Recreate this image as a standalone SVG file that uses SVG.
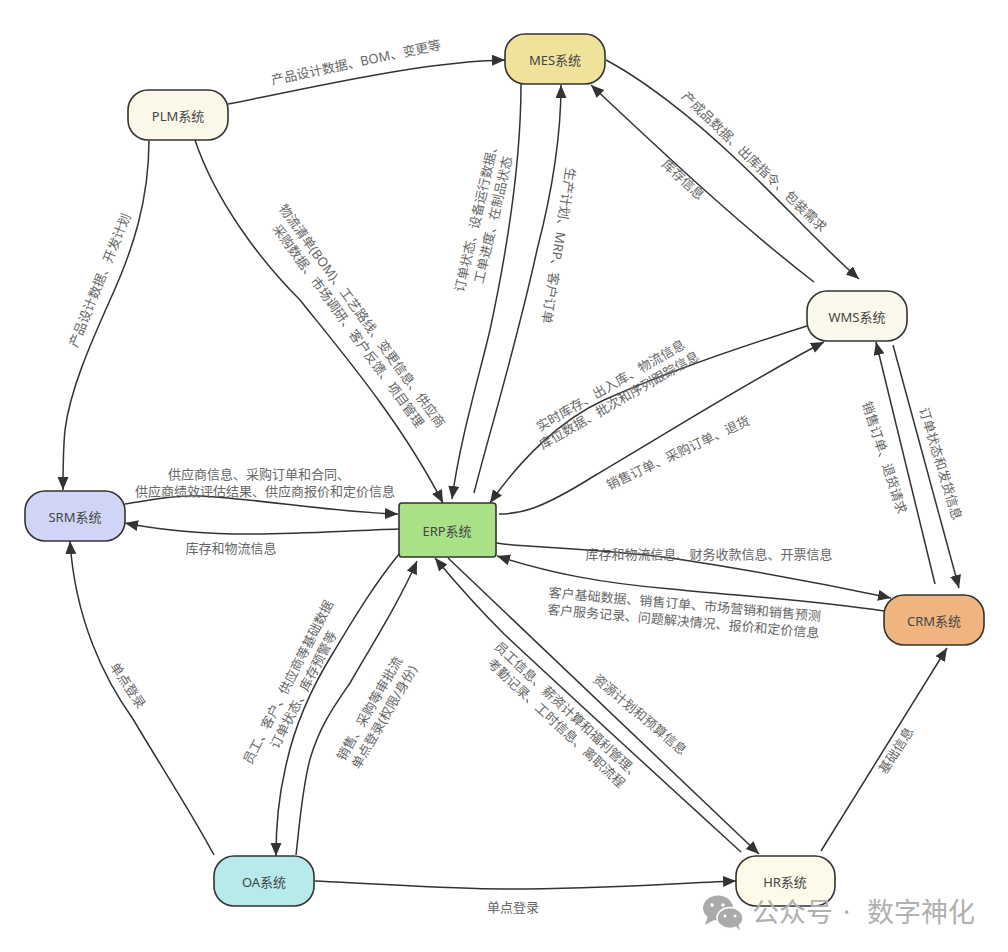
<svg xmlns="http://www.w3.org/2000/svg" width="1008" height="952" viewBox="0 0 1008 952">
<style>
text{font-family:"Noto Sans","Noto Sans CJK SC",sans-serif}
.n{stroke:#333;stroke-width:1.6}
.t{font-size:13px;fill:#444;text-anchor:middle;dominant-baseline:central}
.l{font-size:13px;fill:#666;text-anchor:middle}
.c{fill:none;stroke:#333;stroke-width:1.5;marker-end:url(#a)}
</style>
<defs>
<marker id="a" markerUnits="userSpaceOnUse" markerWidth="14" markerHeight="12" refX="13" refY="5.5" orient="auto"><path d="M0 0L13 5.5L0 11Z" fill="#333"/></marker>
</defs>
<rect width="1008" height="952" fill="#fff"/>
<g id="connectors">
<path class="c" d="M228 104C320 86 420 62 505 60"/>
<path class="c" d="M149 140C149 200 133 250 110 300C90 345 70 390 65 430C63 450 63 470 63 490"/>
<path class="c" d="M195 140C215 200 260 260 300 300C340 350 400 420 443 503"/>
<path class="c" d="M521 84C521 170 505 260 490 330C478 380 460 440 452 499"/>
<path class="c" d="M474 493C490 430 515 350 537 250C550 200 561 140 561 85"/>
<path class="c" d="M606 60C640 78 690 115 737 160C780 200 820 245 859 279"/>
<path class="c" d="M814 282C740 225 660 150 591 85"/>
<path class="c" d="M807 326C740 347 660 375 604 400C560 420 520 460 490 503"/>
<path class="c" d="M499 514C520 514 540 510 594 476C680 425 760 375 824 342"/>
<path class="c" d="M893 345L959 588"/>
<path class="c" d="M935 584L876 342"/>
<path class="c" d="M496 543C520 547 590 548 671 558C750 570 830 585 891 598"/>
<path class="c" d="M884 611C810 600 740 596 671 589C600 583 550 573 497 556"/>
<path class="c" d="M125 504C150 500 175 495 200 496C270 500 330 512 398 514"/>
<path class="c" d="M399 529C340 531 280 535 233 534C190 533 160 530 125 523"/>
<path class="c" d="M399 554C370 590 350 625 333 653C310 690 293 730 285 770C278 800 276 830 276 856"/>
<path class="c" d="M296 855C300 820 302 790 310 759C320 725 335 705 350 683C375 640 400 600 417 561"/>
<path class="c" d="M214 855C190 810 160 765 133 719C105 680 75 620 70 541"/>
<path class="c" d="M315 881C400 885 450 889 504 889C600 889 660 884 736 881"/>
<path class="c" d="M448 558L759 854"/>
<path class="c" d="M741 852C660 778 580 705 504 634C480 610 455 582 435 558"/>
<path class="c" d="M821 851L947 648"/>
</g>
<g id="labels">
<text class="l" transform="translate(357 67) rotate(-12)">产品设计数据、BOM、变更等</text>
<text class="l" transform="translate(104 282) rotate(-68)">产品设计数据、开发计划</text>
<text class="l" transform="translate(355 321) rotate(54)"><tspan x="0" y="-4">物流清单(BOM)、工艺路线、变更信息、供应商</tspan><tspan x="0" y="13">采购数据、市场调研、客户反馈、项目管理</tspan></text>
<text class="l" transform="translate(485 218) rotate(-77)"><tspan x="0" y="-4">订单状态、设备运行数据、</tspan><tspan x="0" y="13">工单进度、在制品状态</tspan></text>
<text class="l" transform="translate(554 245) rotate(99)">生产计划、MRP、客户订单</text>
<text class="l" transform="translate(751 165) rotate(44)">产成品数据、出库指令、包装需求</text>
<text class="l" transform="translate(680 183) rotate(43)">库存信息</text>
<text class="l" transform="translate(615 393) rotate(-30)"><tspan x="0" y="-4">实时库存、出入库、物流信息</tspan><tspan x="0" y="13">库位数据、批次和序列跟踪信息</tspan></text>
<text class="l" transform="translate(680 457) rotate(-25)">销售订单、采购订单、退货</text>
<text class="l" transform="translate(880 459) rotate(72)">销售订单、退货请求</text>
<text class="l" transform="translate(936 465) rotate(73)">订单状态和发货信息</text>
<text class="l" x="709" y="559">库存和物流信息、财务收款信息、开票信息</text>
<text class="l" transform="translate(684 613) rotate(5)"><tspan x="0" y="-4">客户基础数据、销售订单、市场营销和销售预测</tspan><tspan x="0" y="13">客户服务记录、问题解决情况、报价和定价信息</tspan></text>
<text class="l" transform="translate(637 718) rotate(40)">资源计划和预算信息</text>
<text class="l" transform="translate(562 717) rotate(43)"><tspan x="0" y="-4">员工信息、薪资计算和福利管理、</tspan><tspan x="0" y="13">考勤记录、工时信息、离职流程</tspan></text>
<text class="l" transform="translate(900 753) rotate(-57)">基础信息</text>
<text class="l" x="513" y="912">单点登录</text>
<text class="l" transform="translate(124 688) rotate(56)">单点登录</text>
<text class="l" transform="translate(296 686) rotate(-63)"><tspan x="0" y="-4">员工、客户、供应商等基础数据</tspan><tspan x="0" y="13">订单状态、库存预警等</tspan></text>
<text class="l" transform="translate(377 713) rotate(-60)"><tspan x="0" y="-4">销售、采购等审批流</tspan><tspan x="0" y="13">单点登录(权限/身份)</tspan></text>
<text class="l"><tspan x="259" y="479">供应商信息、采购订单和合同、</tspan><tspan x="265" y="496">供应商绩效评估结果、供应商报价和定价信息</tspan></text>
<text class="l" x="231" y="553">库存和物流信息</text>
</g>
<g id="plm"><rect class="n" x="128" y="90" width="100" height="50" rx="20" fill="#fbf8e9"/><text class="t" x="178" y="116">PLM系统</text></g>
<g id="mes"><rect class="n" x="505" y="34" width="100" height="50" rx="20" fill="#efe29b"/><text class="t" x="555" y="60">MES系统</text></g>
<g id="wms"><rect class="n" x="807" y="291" width="100" height="50" rx="20" fill="#fbf9ec"/><text class="t" x="857" y="317">WMS系统</text></g>
<g id="srm"><rect class="n" x="25" y="491" width="100" height="50" rx="20" fill="#d0d5f8"/><text class="t" x="75" y="517">SRM系统</text></g>
<g id="erp"><rect class="n" x="399" y="503" width="97" height="54" rx="3" fill="#a9e186"/><text class="t" x="447" y="531">ERP系统</text></g>
<g id="crm"><rect class="n" x="884" y="595" width="100" height="50" rx="20" fill="#f0b57e"/><text class="t" x="934" y="621">CRM系统</text></g>
<g id="oa"><rect class="n" x="214" y="856" width="100" height="50" rx="20" fill="#b7eaea"/><text class="t" x="264" y="882">OA系统</text></g>
<g id="hr"><rect class="n" x="736" y="856" width="99" height="50" rx="20" fill="#fdfaea"/><text class="t" x="785" y="882">HR系统</text></g>
<g id="watermark">
<ellipse cx="718" cy="908" rx="15" ry="12.500" fill="#aaa"/><path d="M708 916L705 925L716 919Z" fill="#aaa"/>
<ellipse cx="730" cy="918" rx="13" ry="10.500" fill="#aaa" stroke="#fff" stroke-width="1.500"/><path d="M735 925L740 931L738 923Z" fill="#aaa"/>
<circle cx="712" cy="905" r="1.800" fill="#fff"/><circle cx="723" cy="905" r="1.800" fill="#fff"/><circle cx="725" cy="916" r="1.500" fill="#fff"/><circle cx="735" cy="916" r="1.500" fill="#fff"/>
<text y="922" font-size="27" fill="#b0b0b0"><tspan x="752">公众号</tspan><tspan x="843">·</tspan><tspan x="867">数字神化</tspan></text>
</g>
</svg>
